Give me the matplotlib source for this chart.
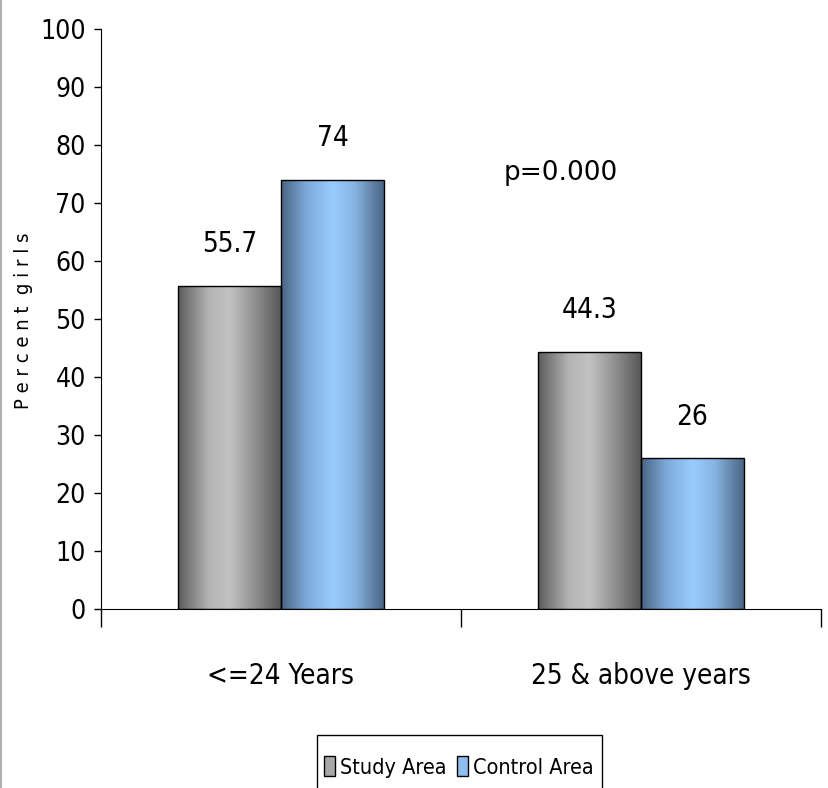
import numpy as np
import matplotlib
matplotlib.use("Agg")
import matplotlib.pyplot as plt
from matplotlib.colors import LinearSegmentedColormap
from matplotlib.patches import Patch, Rectangle
from matplotlib.font_manager import FontProperties

# data
categories = ["<=24 Years", "25 & above years"]
series_names = ["Study Area", "Control Area"]
study_area = [55.7, 44.3]
control_area = [74, 26]
y_ticks = [0, 10, 20, 30, 40, 50, 60, 70, 80, 90, 100]

def narrow(size):
    return FontProperties(family="DejaVu Sans", stretch="condensed", size=size)

gray_cmap = LinearSegmentedColormap.from_list(
    "gray_cyl", [(0, "#5c5c5c"), (0.3, "#b4b4b4"), (0.5, "#c2c2c2"),
                 (0.7, "#9a9a9a"), (1, "#585858")])
blue_cmap = LinearSegmentedColormap.from_list(
    "blue_cyl", [(0, "#4a6483"), (0.25, "#7eaadb"), (0.5, "#99ccff"),
                 (0.72, "#87b4e0"), (1, "#4a6483")])

fig = plt.figure(figsize=(8.29, 7.88), dpi=100)
ax = fig.add_axes([101 / 829, 1 - 609 / 788, 720 / 829, 580 / 788])

x = np.array([0.5, 1.5])
w = 0.286
grad = np.linspace(0, 1, 256).reshape(1, -1)

def cyl_bars(xs, vals, cmap, label):
    bars = ax.bar(xs, vals, w, facecolor="none", edgecolor="black",
                  linewidth=1.0, label=label, zorder=3)
    for b in bars:
        x0 = b.get_x()
        im = ax.imshow(grad, cmap=cmap, extent=[x0, x0 + b.get_width(), 0, b.get_height()],
                       aspect="auto", zorder=2, interpolation="bilinear")
        im.set_clip_path(b)
    return bars

b1 = cyl_bars(x - w / 2, study_area, gray_cmap, series_names[0])
b2 = cyl_bars(x + w / 2, control_area, blue_cmap, series_names[1])

for bars in (b1, b2):
    for b in bars:
        v = b.get_height()
        ax.annotate(f"{v:g}", (b.get_x() + b.get_width() / 2, v),
                    xytext=(0, 30), textcoords="offset points",
                    ha="center", va="center", fontproperties=narrow(20))

ax.text(0.638, 0.752, "p=0.000", transform=ax.transAxes, ha="center", va="center",
        fontsize=19, family="DejaVu Sans")

ax.set_xlim(0, 2)
ax.set_ylim(0, 100)
ax.set_yticks(y_ticks)
ax.set_yticklabels([str(t) for t in y_ticks], fontproperties=narrow(19))
ax.tick_params(axis="y", length=5, width=1, pad=6)

ax.set_xticks([0, 1, 2])
ax.set_xticklabels([])
ax.tick_params(axis="x", which="major", length=13, width=1, direction="out")
ax.set_xticks(x, minor=True)
ax.set_xticklabels(categories, minor=True, fontproperties=narrow(20))
ax.tick_params(axis="x", which="minor", length=0, pad=38)

ax.spines["top"].set_visible(False)
ax.spines["right"].set_visible(False)

ax.set_ylabel("P e r c e n t  g i r l s", fontproperties=narrow(14.5))
ax.yaxis.set_label_coords(-0.094, 0.497)

# legend entries without their own frame; the box runs off the bottom edge
handles = [Patch(facecolor="#a8a8a8", edgecolor="black", label=series_names[0]),
           Patch(facecolor="#8fbdee", edgecolor="black", label=series_names[1])]
leg = fig.legend(handles=handles, loc="center", ncol=2,
                 bbox_to_anchor=(459 / 829, 1 - 767 / 788),
                 prop=narrow(15.5), frameon=False,
                 handlelength=0.5, handleheight=1.0,
                 handletextpad=0.25, columnspacing=0.5, borderpad=0)
fig.patches.append(Rectangle((317 / 829, -0.02), 285 / 829, 0.02 + 53 / 788,
                             transform=fig.transFigure, facecolor="none",
                             edgecolor="black", linewidth=1.0))

# thin grey edge on the left side
fig.patches.append(Rectangle((0, 0), 2.5 / 829, 1, transform=fig.transFigure,
                             facecolor="#b0b0b0", edgecolor="none"))

fig.savefig("out.png", dpi=100)
